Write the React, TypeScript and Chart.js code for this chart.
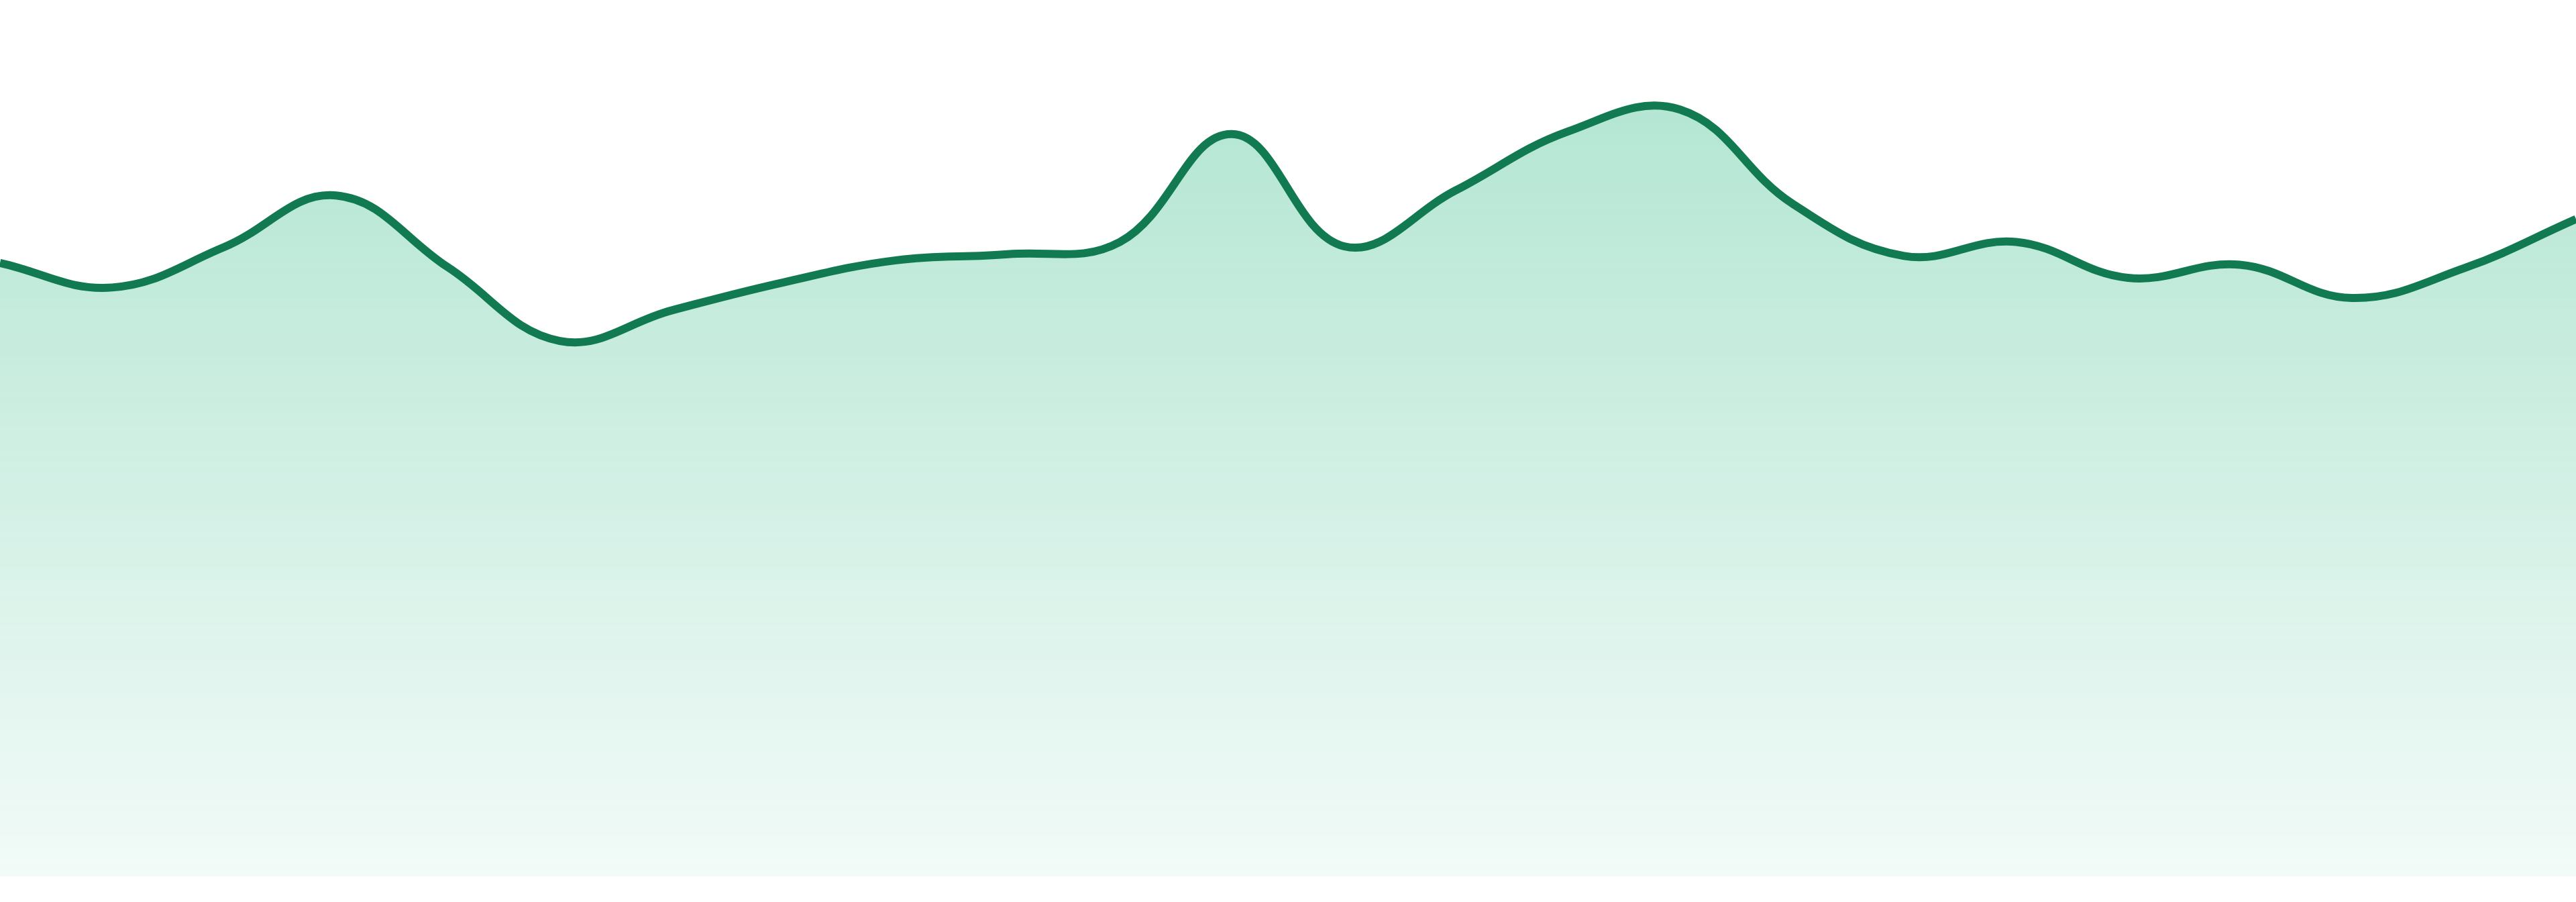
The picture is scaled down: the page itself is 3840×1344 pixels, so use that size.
import { useEffect, useRef } from "react"
import { Chart, registerables } from "chart.js"

Chart.register(...registerables)

// 24 daily readings
const labels = [
  "Day 1", "Day 2", "Day 3", "Day 4", "Day 5", "Day 6", "Day 7", "Day 8",
  "Day 9", "Day 10", "Day 11", "Day 12", "Day 13", "Day 14", "Day 15", "Day 16",
  "Day 17", "Day 18", "Day 19", "Day 20", "Day 21", "Day 22", "Day 23", "Day 24",
]

const values = [
  70.0, 67.2, 71.8, 77.7, 69.5, 61.1, 64.6, 67.8,
  70.3, 71.0, 72.4, 84.7, 71.9, 78.3, 85.0, 87.5,
  76.8, 70.8, 72.4, 68.3, 69.8, 66.0, 69.4, 75.0,
]

const yMin = 0
const yMax = 100

export default function App() {
  const chartRef = useRef<HTMLCanvasElement>(null)
  const chartInstance = useRef<Chart | null>(null)

  useEffect(() => {
    document.body.style.margin = "0"
    if (!chartRef.current) return

    if (chartInstance.current) {
      chartInstance.current.destroy()
    }

    const ctx = chartRef.current.getContext("2d")
    if (ctx) {
      chartInstance.current = new Chart(ctx, {
        type: "line",
        data: {
          labels,
          datasets: [
            {
              label: "Value",
              data: values,
              borderColor: "#117a51",
              borderWidth: 12,
              tension: 0.4,
              pointRadius: 0,
              pointHoverRadius: 0,
              fill: "start",
              backgroundColor: (context: any) => {
                const { chart } = context
                const area = chart.chartArea
                if (!area) return "rgba(16,175,115,0.2)"
                // soft green fading towards the bottom
                const g = chart.ctx.createLinearGradient(0, area.top, 0, area.bottom)
                g.addColorStop(0, "rgba(16,175,115,0.35)")
                g.addColorStop(1, "rgba(16,175,115,0.055)")
                return g
              },
            },
          ],
        },
        options: {
          animation: false,
          responsive: true,
          maintainAspectRatio: false,
          layout: { padding: { top: 0, left: 0, right: 0, bottom: 38 } },
          plugins: {
            legend: { display: false },
            tooltip: { enabled: false },
          },
          scales: {
            x: { display: false },
            y: { display: false, min: yMin, max: yMax },
          },
        },
      })
    }

    return () => {
      if (chartInstance.current) {
        chartInstance.current.destroy()
        chartInstance.current = null
      }
    }
  }, [])

  return (
    <div style={{ width: "100%", height: "1344px", position: "relative" }}>
      <canvas ref={chartRef} />
    </div>
  )
}
